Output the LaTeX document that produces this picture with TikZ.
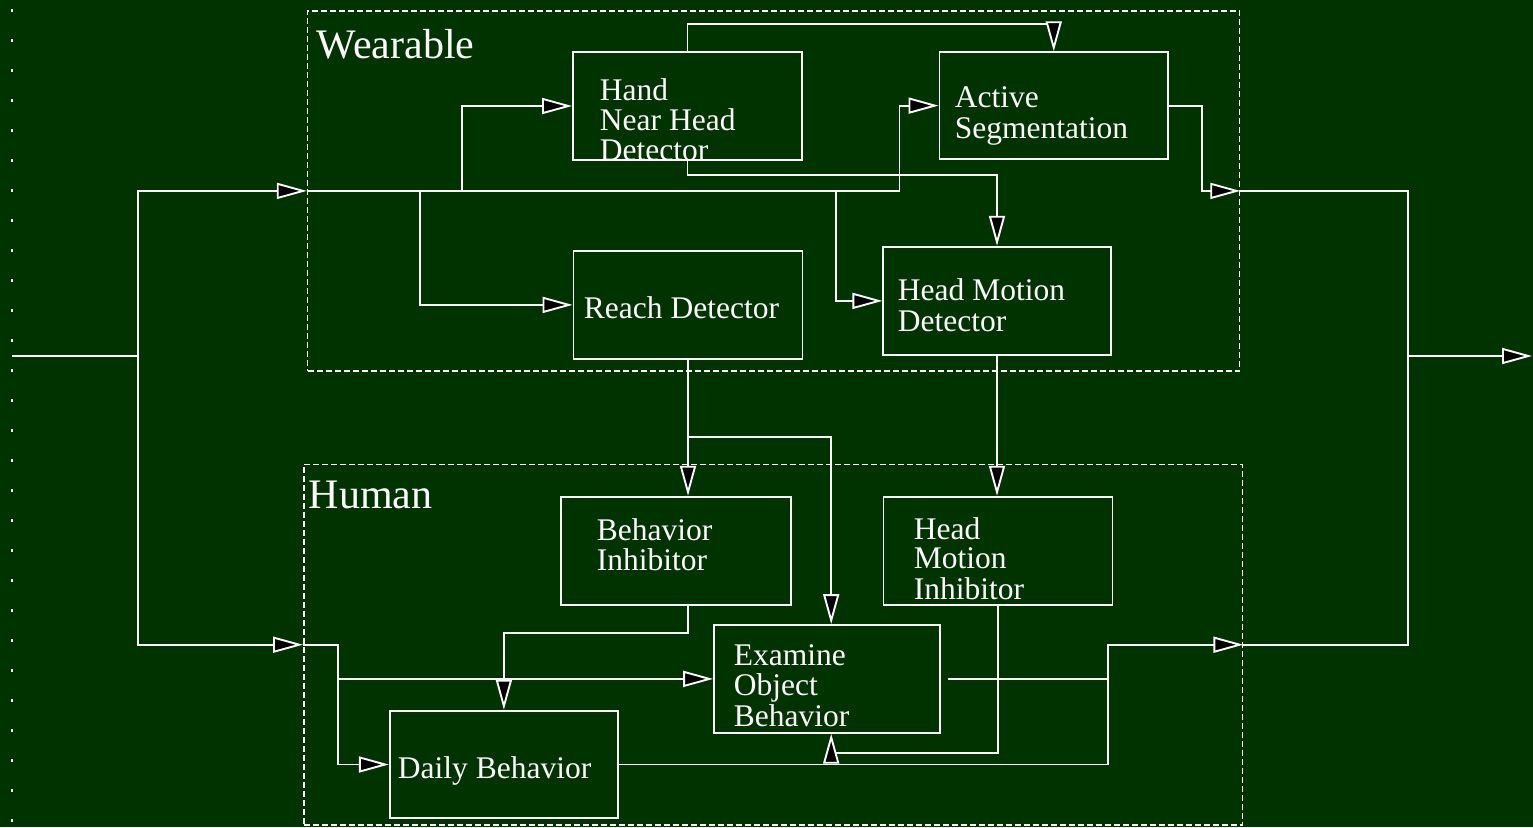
\documentclass[tikz,border=0pt]{standalone}
\usepackage{fontspec}
\setmainfont{Liberation Serif}
\usetikzlibrary{arrows.meta}
\definecolor{bg}{HTML}{003300}
\begin{document}
\begin{tikzpicture}[x=1pt,y=-1pt, line width=1.9pt, white,
  box/.style={draw=white, rectangle, inner sep=0pt, line width=1.9pt},
  grp/.style={draw=white, rectangle, inner sep=0pt, line width=1.5pt, dash pattern=on 6pt off 3pt},
  txt/.style={anchor=base west, inner sep=0pt, text=white, font=\fontsize{31.5}{29.5}\selectfont},
  big/.style={anchor=base west, inner sep=0pt, text=white, font=\fontsize{42}{46}\selectfont},
  arr/.style={-{Triangle[length=30pt,width=16pt,fill=black]}},
]
\fill[bg] (0,0) rectangle (1533,827);
\useasboundingbox (0,0) rectangle (1533,827);

% left dotted rule
\draw[line width=2pt, dash pattern=on 3pt off 27pt] (12,9) -- (12,827);

% groups
\node[grp, minimum width=932pt, minimum height=360.3pt] (wear) at (773.5,190.9) {};
\node[grp, minimum width=938.9pt, minimum height=360.7pt] (hum) at (773.2,644.7) {};
\node[big] (lwear) at (316,58) {Wearable};
\node[big] (lhum) at (308,508) {Human};

% boxes
\node[box, minimum width=229pt, minimum height=108pt] (hand) at (687.5,106) {};
\node[box, minimum width=228.5pt, minimum height=106.7pt] (act) at (1053.75,105.6) {};
\node[box, minimum width=229pt, minimum height=108.3pt] (reach) at (688,304.9) {};
\node[box, minimum width=227.3pt, minimum height=108.3pt] (hmd) at (997,300.9) {};
\node[box, minimum width=229.4pt, minimum height=108.3pt] (binh) at (676,550.9) {};
\node[box, minimum width=229pt, minimum height=108.3pt] (hinh) at (998,550.9) {};
\node[box, minimum width=226.3pt, minimum height=107.7pt] (exam) at (827.2,678.9) {};
\node[box, minimum width=228.2pt, minimum height=107.6pt] (daily) at (503.9,764.5) {};

% input
\coordinate (in0) at (12,356);
\coordinate (jS) at (138,356);
\draw (in0) -- (jS);
\draw[arr] (jS) |- (wear.west);
\draw[arr] (jS) |- (hum.west);

% wearable internals
\coordinate (jA) at (899.5,190.9);
\coordinate (jH) at (462,190.9);
\coordinate (jR) at (420,190.9);
\coordinate (jM) at (836,190.9);
\draw[arr] (wear.west) -- (jA) |- (act.west);
\draw[arr] (jH) |- (hand.west);
\draw[arr] (jR) |- (reach.west);
\draw[arr] (jM) |- (hmd.west);
\draw[arr] (hand.north) -- ++(0,-27) -| (act.north);
\draw[arr] (hand.south) -- ++(0,14) -| (hmd.north);
\coordinate (jE) at (1202,190.9);
\draw[arr] (act.east) -| (jE) -- (wear.east);

% output
\coordinate (jO) at (1408,356);
\coordinate (out) at (1532,356);
\draw (wear.east) -| (jO);
\draw (hum.east) -| (jO);
\draw[arr] (jO) -- (out);

% between groups
\draw[arr] (reach.south) -- (reach.south |- binh.north);
\coordinate (jB) at (688,437);
\draw[arr] (jB) -| ([xshift=4pt]exam.north);
\draw[arr] (hmd.south) -- (hmd.south |- hinh.north);

% human internals
\draw[arr] (reach.south |- binh.south) -- ++(0,27) -| (daily.north);
\coordinate (jD) at (338,644.7);
\draw[arr] (hum.west) -- (jD) |- (daily.west);
\draw[arr] (jD |- exam.west) -- (exam.west);
\draw[arr] (hinh.south) -- ++(0,147) -| ([xshift=4pt]exam.south);
\coordinate (jK) at (1108,644.7);
\draw ([xshift=7pt]exam.east) -- (exam.east -| jK);
\draw[arr] (daily.east) -| (jK) -- (hum.east);

% texts
\node[txt] (thand) at (599,100) {\begin{tabular}[t]{@{}l@{}}Hand\\Near Head\\Detector\end{tabular}};
\node[txt] (tact) at (954,107) {\begin{tabular}[t]{@{}l@{}}Active\\[1.5pt]Segmentation\end{tabular}};
\node[txt] (treach) at (583,318) {Reach Detector};
\node[txt] (thmd) at (897,300) {\begin{tabular}[t]{@{}l@{}}Head Motion\\[1.5pt]Detector\end{tabular}};
\node[txt] (tbinh) at (596,540) {\begin{tabular}[t]{@{}l@{}}Behavior\\Inhibitor\end{tabular}};
\node[txt] (thinh) at (913,539) {\begin{tabular}[t]{@{}l@{}}Head\\Motion\\Inhibitor\end{tabular}};
\node[txt] (texam) at (733,665) {\begin{tabular}[t]{@{}l@{}}Examine\\Object\\Behavior\end{tabular}};
\node[txt] (tdaily) at (397,778) {Daily Behavior};
\end{tikzpicture}
\end{document}
